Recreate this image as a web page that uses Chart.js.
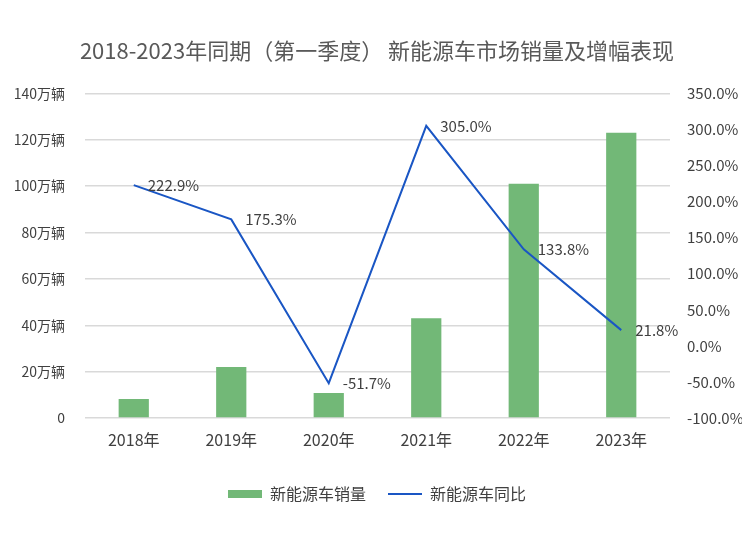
<!DOCTYPE html>
<html>
<head>
<meta charset="utf-8">
<script src="https://cdn.jsdelivr.net/npm/chart.js@4.4.1/dist/chart.umd.min.js"></script>
<style>
  html, body { margin: 0; padding: 0; background: #fff; }
  #wrap { width: 750px; height: 540px; }
</style>
</head>
<body>
<div id="wrap"><canvas id="chart" width="750" height="540"></canvas></div>
<script>
// Values.
const years = ['2018年', '2019年', '2020年', '2021年', '2022年', '2023年'];
const sales = [8.2, 22, 10.8, 43, 101, 123];            // 万辆
const growth = [222.9, 175.3, -51.7, 305.0, 133.8, 21.8]; // %

const FONT = "'Noto Sans CJK SC', 'Noto Sans', sans-serif";
const textColor = '#404040';
const gridColor = '#d9d9d9';

// Draw the growth labels just right of each line point.
const pointLabels = {
  id: 'pointLabels',
  afterDatasetsDraw(chart) {
    const meta = chart.getDatasetMeta(1);
    const ctx = chart.ctx;
    ctx.save();
    ctx.font = '15px ' + FONT;
    ctx.fillStyle = textColor;
    ctx.textAlign = 'left';
    ctx.textBaseline = 'middle';
    meta.data.forEach((pt, i) => {
      ctx.fillText(growth[i].toFixed(1) + '%', pt.x + 14, pt.y);
    });
    ctx.restore();
  }
};

new Chart(document.getElementById('chart'), {
  type: 'bar',
  data: {
    labels: years,
    datasets: [
      {
        type: 'bar',
        label: '新能源车销量',
        data: sales,
        backgroundColor: '#72b877',
        borderWidth: 0,
        pointStyle: 'rect',
        barPercentage: 0.62,
        categoryPercentage: 0.5,
        yAxisID: 'y',
        order: 2
      },
      {
        type: 'line',
        label: '新能源车同比',
        data: growth,
        borderColor: '#1a56c4',
        backgroundColor: '#1a56c4',
        borderWidth: 2,
        pointRadius: 0,
        pointStyle: 'line',
        tension: 0,
        yAxisID: 'y1',
        order: 1
      }
    ]
  },
  options: {
    responsive: false,
    animation: false,
    layout: { padding: { top: 37, left: 12, right: 8, bottom: 28 } },
    scales: {
      x: {
        grid: { display: false, drawTicks: false },
        border: { display: false },
        ticks: { color: textColor, font: { size: 16, family: FONT }, padding: 12 },
        afterFit: (s) => { s.height = 46; }
      },
      y: {
        position: 'left',
        min: 0,
        max: 140,
        ticks: {
          stepSize: 20,
          color: textColor,
          font: { size: 14, family: FONT },
          padding: 20,
          callback: (v) => (v === 0 ? '0' : v + '万辆')
        },
        grid: { color: gridColor, lineWidth: 1.5, drawTicks: false },
        border: { display: false },
        afterFit: (s) => { s.width = 73; }
      },
      y1: {
        position: 'right',
        min: -100,
        max: 350,
        ticks: {
          stepSize: 50,
          color: textColor,
          font: { size: 15, family: FONT },
          padding: 17,
          callback: (v) => v.toFixed(1) + '%'
        },
        grid: { display: false, drawTicks: false },
        border: { display: false },
        afterFit: (s) => { s.width = 72; }
      }
    },
    plugins: {
      title: {
        display: true,
        text: '2018-2023年同期（第一季度） 新能源车市场销量及增幅表现',
        color: '#595959',
        font: { size: 22, family: FONT, weight: 'normal' },
        padding: { top: 0, bottom: 30 }
      },
      legend: {
        position: 'bottom',
        labels: {
          usePointStyle: true,
          pointStyleWidth: 34,
          boxHeight: 8,
          color: textColor,
          padding: 22,
          font: { size: 16, family: FONT },
          sort: (a, b) => a.datasetIndex - b.datasetIndex
        }
      },
      tooltip: { enabled: false }
    }
  },
  plugins: [pointLabels]
});
</script>
</body>
</html>
